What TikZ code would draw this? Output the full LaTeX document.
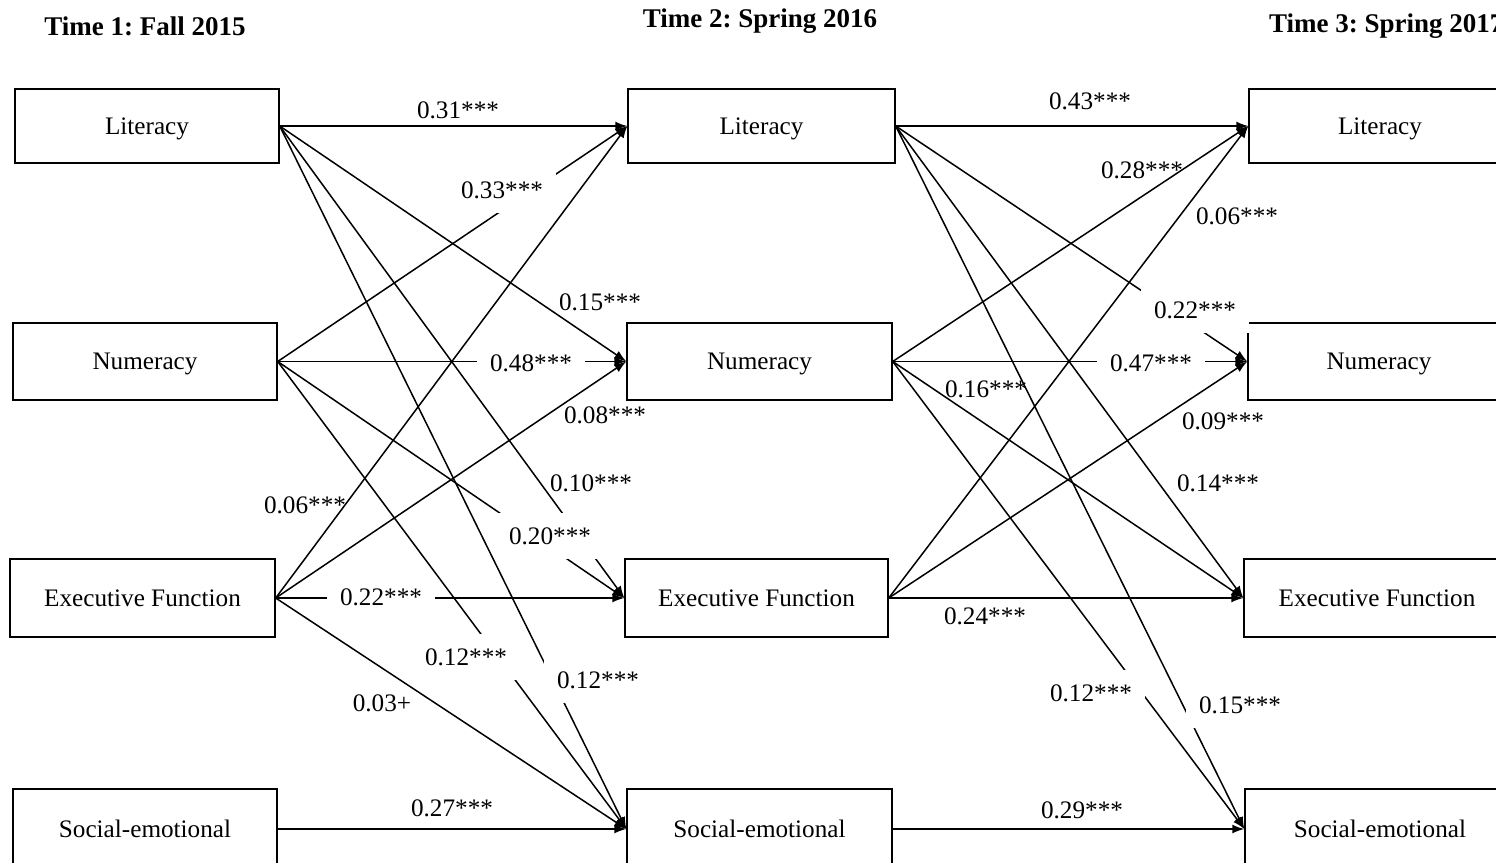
\documentclass[tikz,border=0pt]{standalone}
\usepackage{fontspec}
\setmainfont{Liberation Serif}
\usetikzlibrary{arrows.meta}
\frenchspacing
\begin{document}
\begin{tikzpicture}[x=1pt,y=-1pt,
  box/.style={draw,line width=1.4pt,rectangle,inner sep=0pt,text height=17pt,text depth=1pt,font=\fontsize{25.2}{30}\selectfont},
  arr/.style={line width=1.5pt,-{Latex[length=12pt,width=9pt]}},
  lab/.style={font=\fontsize{25.2}{30}\selectfont,inner sep=0pt},
  labw/.style={lab,fill=white,inner xsep=13pt,inner ysep=14pt},
  ttl/.style={font=\fontsize{27}{32}\selectfont\bfseries,inner sep=0pt}]
\useasboundingbox (0,0) rectangle (1496,862);
\clip (0,0) rectangle (1496,862);
% titles
\node[ttl] (t1) at (145,26) {Time 1: Fall 2015};
\node[ttl] (t2) at (760,21) {Time 2: Spring 2016};
\node[ttl,anchor=west] (t3) at (1269,26) {Time 3: Spring 2017};
% column 1
\node[box,minimum width=264pt,minimum height=74pt] (L1) at (147,126) {Literacy};
\node[box,minimum width=264pt,minimum height=77pt] (N1) at (145,361.5) {Numeracy};
\node[box,minimum width=265pt,minimum height=78pt] (E1) at (142.5,598) {Executive Function};
\node[box,minimum width=264pt,minimum height=80pt] (S1) at (145,829) {Social-emotional};
% column 2
\node[box,minimum width=267pt,minimum height=74pt] (L2) at (761.5,126) {Literacy};
\node[box,minimum width=265pt,minimum height=77pt] (N2) at (759.5,361.5) {Numeracy};
\node[box,minimum width=263pt,minimum height=78pt] (E2) at (756.5,598) {Executive Function};
\node[box,minimum width=265pt,minimum height=80pt] (S2) at (759.5,829) {Social-emotional};
% column 3
\node[box,minimum width=262pt,minimum height=74pt] (L3) at (1380,126) {Literacy};
\node[box,minimum width=262pt,minimum height=77pt] (N3) at (1379,361.5) {Numeracy};
\node[box,minimum width=266pt,minimum height=78pt] (E3) at (1377,598) {Executive Function};
\node[box,minimum width=270pt,minimum height=80pt] (S3) at (1380,829) {Social-emotional};
% T1 -> T2
\draw[arr] (L1.east) -- (L2.west);
\draw[arr] (L1.east) -- (N2.west);
\draw[arr] (L1.east) -- (E2.west);
\draw[arr] (L1.east) -- (S2.west);
\draw[arr] (N1.east) -- (L2.west);
\draw[arr] (N1.east) -- (N2.west);
\draw[arr] (N1.east) -- (E2.west);
\draw[arr] (N1.east) -- (S2.west);
\draw[arr] (E1.east) -- (L2.west);
\draw[arr] (E1.east) -- (N2.west);
\draw[arr] (E1.east) -- (E2.west);
\draw[arr] (E1.east) -- (S2.west);
\draw[arr] (S1.east) -- (S2.west);
% T2 -> T3
\draw[arr] (L2.east) -- (L3.west);
\draw[arr] (L2.east) -- (N3.west);
\draw[arr] (L2.east) -- (E3.west);
\draw[arr] (L2.east) -- (S3.west);
\draw[arr] (N2.east) -- (L3.west);
\draw[arr] (N2.east) -- (N3.west);
\draw[arr] (N2.east) -- (E3.west);
\draw[arr] (N2.east) -- (S3.west);
\draw[arr] (E2.east) -- (L3.west);
\draw[arr] (E2.east) -- (N3.west);
\draw[arr] (E2.east) -- (E3.west);
\draw[arr] (S2.east) -- (S3.west);
% labels T1 -> T2
\node[lab] (a1) at (458,110) {0.31***};
\node[labw] (a2) at (502,190) {0.33***};
\node[lab] (a3) at (305,505) {0.06***};
\node[lab] (a4) at (600,302) {0.15***};
\node[labw] (a5) at (531,363) {0.48***};
\node[lab] (a6) at (605,415) {0.08***};
\node[lab] (a7) at (591,483) {0.10***};
\node[labw] (a8) at (550,536) {0.20***};
\node[labw] (a9) at (381,597) {0.22***};
\node[labw] (a10) at (598,680) {0.12***};
\node[labw] (a11) at (466,657) {0.12***};
\node[lab] (a12) at (382,703) {0.03+};
\node[lab] (a13) at (452,808) {0.27***};
% labels T2 -> T3
\node[lab] (b1) at (1090,101) {0.43***};
\node[lab] (b2) at (1142,170) {0.28***};
\node[lab] (b3) at (1237,216) {0.06***};
\node[labw] (b4) at (1195,310) {0.22***};
\node[labw] (b5) at (1151,363) {0.47***};
\node[lab] (b6) at (986,389) {0.16***};
\node[lab] (b7) at (1223,421) {0.09***};
\node[lab] (b8) at (1218,483) {0.14***};
\node[lab] (b9) at (985,616) {0.24***};
\node[labw] (b10) at (1091,693) {0.12***};
\node[labw] (b11) at (1240,705) {0.15***};
\node[lab] (b12) at (1082,810) {0.29***};
\end{tikzpicture}
\end{document}
